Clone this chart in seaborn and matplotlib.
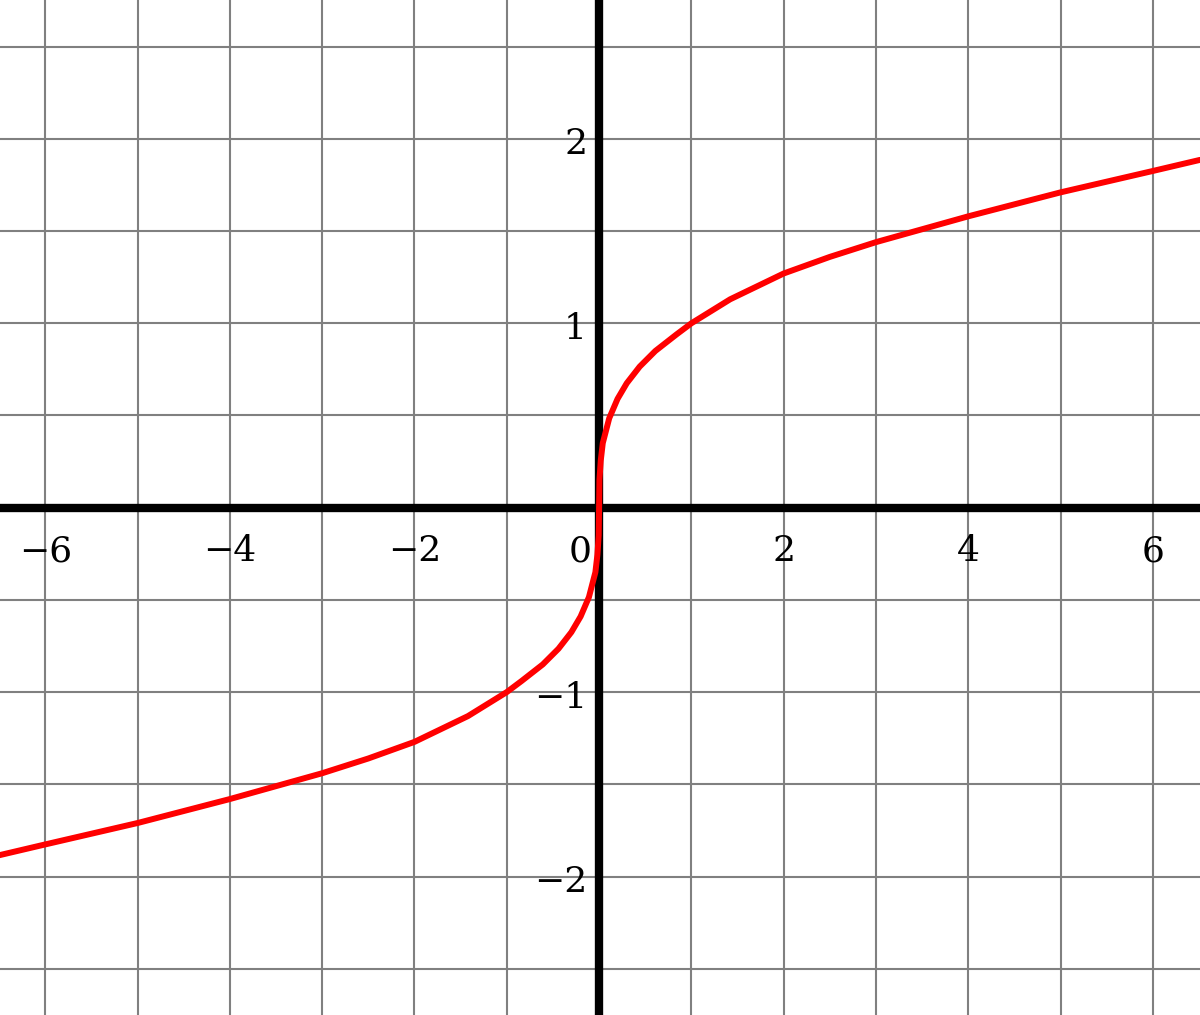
import numpy as np
import pandas as pd
import matplotlib
matplotlib.use("Agg")
import matplotlib.pyplot as plt
import seaborn as sns

# Curve points
curve_x = [-6.51, -6.0, -5.0, -4.0, -3.0, -2.5, -2.0, -1.42, -1.0, -0.84, -0.61, -0.44, -0.3, -0.2,
           -0.11, -0.04, -0.018, -0.004, 0.0,
           0.004, 0.018, 0.04, 0.11, 0.2, 0.3, 0.44, 0.61, 0.84, 1.0, 1.42, 2.0, 2.5, 3.0, 4.0,
           5.0, 6.0, 6.51]
curve_y = [-1.886, -1.826, -1.71, -1.58, -1.44, -1.36, -1.27, -1.13, -1.0, -0.94, -0.85, -0.765, -0.675, -0.59,
           -0.485, -0.35, -0.255, -0.15, 0.0,
           0.15, 0.255, 0.35, 0.485, 0.59, 0.675, 0.765, 0.85, 0.94, 1.0, 1.13, 1.27, 1.36, 1.44, 1.58,
           1.71, 1.826, 1.886]

x_tick_values = [-6, -4, -2, 0, 2, 4, 6]
x_tick_labels = ["\u22126", "\u22124", "\u22122", "0", "2", "4", "6"]
y_tick_values = [-2, -1, 1, 2]
y_tick_labels = ["\u22122", "\u22121", "1", "2"]

df = pd.DataFrame({"x": curve_x, "y": curve_y})

sns.set_theme(style="white")
plt.rcParams["font.family"] = ["DejaVu Serif"]

fig = plt.figure(figsize=(12, 10.15), dpi=100)
ax = fig.add_axes([0, 0, 1, 1])

xmin, xmax = -6.49, 6.51
ymin, ymax = -2.751, 2.753

# grid
for gx in np.arange(-6, 7, 1):
    ax.axvline(gx, color="#808080", lw=1.5, zorder=1)
for gy in np.arange(-2.5, 2.51, 0.5):
    ax.axhline(gy, color="#808080", lw=1.5, zorder=1)

# axes
ax.axhline(0, color="black", lw=6, zorder=2)
ax.axvline(0, color="black", lw=6, zorder=2)

sns.lineplot(data=df, x="x", y="y", sort=False, color="#ff0000", lw=4.3, ax=ax, zorder=3)
for ln in ax.get_lines():
    ln.set_solid_joinstyle("round")
    ln.set_solid_capstyle("round")

for v, t in zip(x_tick_values, x_tick_labels):
    xx = -0.2 if v == 0 else v
    ax.text(xx, -0.235, t, ha="center", va="center", fontsize=26, color="black", zorder=4)
for v, t in zip(y_tick_values, y_tick_labels):
    ax.text(-0.13, v - 0.03, t, ha="right", va="center", fontsize=26, color="black", zorder=4)

ax.set_xlim(xmin, xmax)
ax.set_ylim(ymin, ymax)
ax.set_xlabel("")
ax.set_ylabel("")
ax.set_xticks([])
ax.set_yticks([])
for s in ax.spines.values():
    s.set_visible(False)

fig.savefig("out.png", dpi=100)
